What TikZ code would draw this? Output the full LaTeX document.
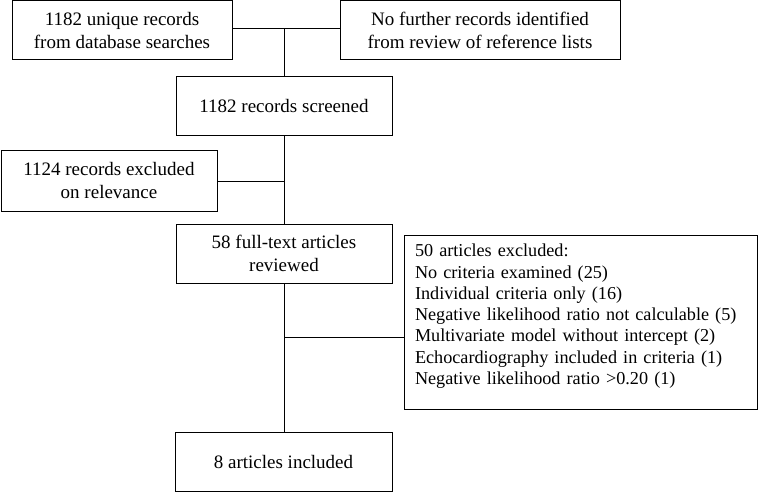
\documentclass[tikz,border=0pt]{standalone}
\usepackage{fontspec}
\setmainfont{Liberation Serif}
\begin{document}
\begin{tikzpicture}[x=1pt,y=-1pt,
  box/.style={draw, line width=1pt, align=center, inner sep=0pt, minimum height=59pt,
    font=\fontsize{19}{23}\selectfont},
  conn/.style={line width=1pt}]
\useasboundingbox[fill=white] (0,0) rectangle (758,492);
\node[box, minimum width=220pt] (b1) at (122,30.5) {1182 unique records\\from database searches};
\node[box, minimum width=280pt] (b2) at (480,30.5) {No further records identified\\from review of reference lists};
\node[box, minimum width=216pt] (b3) at (284,106.5) {1182 records screened};
\node[box, minimum width=216pt, minimum height=60pt] (b4) at (109,181) {1124 records excluded\\on relevance};
\node[box, minimum width=216pt] (b5) at (284,253.5) {58 full-text articles\\reviewed};
\node[draw, line width=1pt, inner xsep=11pt, inner ysep=0pt, text width=331pt, align=left,
  minimum height=174pt, font=\fontsize{18.2}{21.3}\selectfont] (b6) at (580.5,322)
  {50 articles excluded:\\No criteria examined (25)\\Individual criteria only (16)\\Negative likelihood ratio not calculable (5)\\Multivariate model without intercept (2)\\Echocardiography included in criteria (1)\\Negative likelihood ratio >0.20 (1)\\[-6pt]\mbox{}};
\node[box, minimum width=217pt] (b7) at (283.5,461.5) {8 articles included};
\coordinate (j1) at (284,29);
\coordinate (j2) at (284,182);
\coordinate (j3) at (284,337);
\draw[conn] (b1.east |- j1) -- (b2.west |- j1);
\draw[conn] (j1) -- (b3.north);
\draw[conn] (b3.south) -- (b5.north);
\draw[conn] (b4.east |- j2) -- (j2);
\draw[conn] (b5.south) -- (b7.north -| b5.south);
\draw[conn] (j3) -- (b6.west |- j3);
\end{tikzpicture}
\end{document}
